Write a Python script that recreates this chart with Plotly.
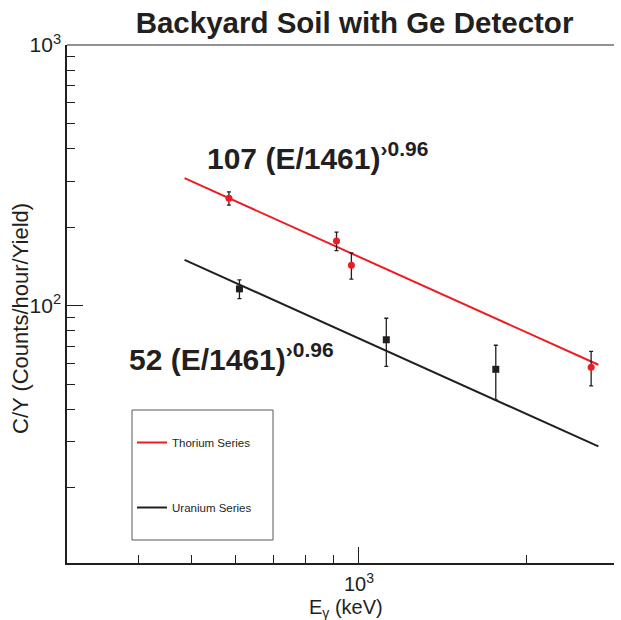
import numpy as np
import plotly.graph_objects as go

# ---------------- data ----------------
thorium_E = [583, 911, 969, 2620]          # keV
thorium_CY = [258, 177, 143, 58]           # counts/hour/yield
thorium_err = [15, 14.5, 16.5, 8.8]

uranium_E = [609, 1120, 1764]
uranium_CY = [116, 74, 57]
uranium_err = [9.5, 15.5, 13.5]

fit_E = [485, 2700]                        # range of drawn fits
fit_E0 = 1461
fit_exponent = -0.96
thorium_amp = 107
uranium_amp = 52

x_major = [1000]
x_major_text = ["10<sup>3</sup>"]
x_minor = [400, 500, 600, 700, 800, 900, 2000]
y_major = [100, 1000]
y_major_text = ["10<sup>2</sup>", "10<sup>3</sup>"]
y_minor = [20, 30, 40, 50, 60, 70, 80, 90, 200, 300, 400, 500, 600, 700, 800, 900]

RED = "#ED1C24"
BLACK = "#231F20"
FONT = "Liberation Sans, Arial, Helvetica, sans-serif"


def fit(amp):
    e = np.array(fit_E, dtype=float)
    return amp * (e / fit_E0) ** fit_exponent


fig = go.Figure()

# fit lines (shown in legend)
fig.add_trace(go.Scatter(x=fit_E, y=fit(thorium_amp), mode="lines",
                         line=dict(color=RED, width=2),
                         name="Thorium Series", legendgroup="th"))
fig.add_trace(go.Scatter(x=fit_E, y=fit(uranium_amp), mode="lines",
                         line=dict(color=BLACK, width=2),
                         name="Uranium Series", legendgroup="u"))

# data points
fig.add_trace(go.Scatter(x=thorium_E, y=thorium_CY, mode="markers",
                         marker=dict(color=RED, size=7, symbol="circle"),
                         error_y=dict(type="data", array=thorium_err, visible=True,
                                      color=BLACK, thickness=1.3, width=2),
                         showlegend=False))
fig.add_trace(go.Scatter(x=uranium_E, y=uranium_CY, mode="markers",
                         marker=dict(color=BLACK, size=7, symbol="square"),
                         error_y=dict(type="data", array=uranium_err, visible=True,
                                      color=BLACK, thickness=1.3, width=2),
                         showlegend=False))

L, R, T, B = 67, 7, 45, 57
W, H = 621, 620
pw, ph = W - L - R, H - T - B


def px(xp):
    return (xp - L) / pw


def py(yp):
    return (H - B - yp) / ph


fig.update_layout(
    width=W, height=H,
    margin=dict(l=L, r=R, t=T, b=B),
    paper_bgcolor="white", plot_bgcolor="white",
    font=dict(family=FONT, color=BLACK),
    title=dict(text="<b>Backyard Soil with Ge Detector</b>",
               font=dict(size=29.5, family=FONT, color=BLACK),
               x=px(354.5), xref="paper", xanchor="center",
               y=1 - 23 / H, yref="container", yanchor="middle"),
    showlegend=True,
    legend=dict(x=px(132), y=py(428), xanchor="left", yanchor="top",
                bgcolor="rgba(0,0,0,0)", borderwidth=0,
                font=dict(size=11.5, family=FONT, color=BLACK),
                tracegroupgap=46, itemwidth=30),
)

fig.update_xaxes(
    type="log", range=[2.4739, 3.4595],
    showgrid=False, zeroline=False,
    showline=True, linecolor=BLACK, linewidth=2,
    ticks="inside", ticklen=16, tickwidth=1, tickcolor=BLACK,
    tickmode="array", tickvals=x_major, ticktext=x_major_text,
    tickfont=dict(size=20, family=FONT, color=BLACK),
    ticklabelstandoff=2,
    minor=dict(tickmode="array", tickvals=x_minor, ticks="inside",
               ticklen=8, tickwidth=1, tickcolor=BLACK, showgrid=False),
)
fig.update_yaxes(
    type="log", range=[1.0128, 3.0],
    showgrid=False, zeroline=False,
    showline=True, linecolor=BLACK, linewidth=1.5,
    ticks="inside", ticklen=16, tickwidth=1, tickcolor=BLACK,
    tickmode="array", tickvals=y_major, ticktext=y_major_text,
    tickfont=dict(size=21, family=FONT, color=BLACK),
    minor=dict(tickmode="array", tickvals=y_minor, ticks="inside",
               ticklen=8, tickwidth=1, tickcolor=BLACK, showgrid=False),
)

# top frame line (gray) and legend box
fig.add_shape(type="line", xref="paper", yref="paper", x0=0, x1=1, y0=1, y1=1,
              line=dict(color="#6d6e70", width=1.5))
fig.add_shape(type="rect", xref="paper", yref="paper",
              x0=px(132), x1=px(273), y0=py(540), y1=py(410),
              line=dict(color="#58595b", width=1))

# axis titles
fig.add_annotation(text="C/Y (Counts/hour/Yield)", textangle=-90,
                   xref="paper", yref="paper", x=px(20), y=py(319),
                   xanchor="center", yanchor="middle", showarrow=False,
                   font=dict(size=22, family=FONT, color=BLACK))
fig.add_annotation(text="E<sub>γ</sub> (keV)",
                   xref="paper", yref="paper", x=px(346), y=py(608),
                   xanchor="center", yanchor="middle", showarrow=False,
                   font=dict(size=20, family=FONT, color=BLACK))

# fit equations
fig.add_annotation(text="<b>%d (E/%d)<sup>›0.96</sup></b>" % (thorium_amp, fit_E0),
                   xref="paper", yref="paper", x=px(205), y=py(156),
                   xanchor="left", yanchor="middle", showarrow=False,
                   font=dict(size=30, family=FONT, color=BLACK))
fig.add_annotation(text="<b>%d (E/%d)<sup>›0.96</sup></b>" % (uranium_amp, fit_E0),
                   xref="paper", yref="paper", x=px(127), y=py(357),
                   xanchor="left", yanchor="middle", showarrow=False,
                   font=dict(size=30, family=FONT, color=BLACK))

fig.write_html("out.html")
